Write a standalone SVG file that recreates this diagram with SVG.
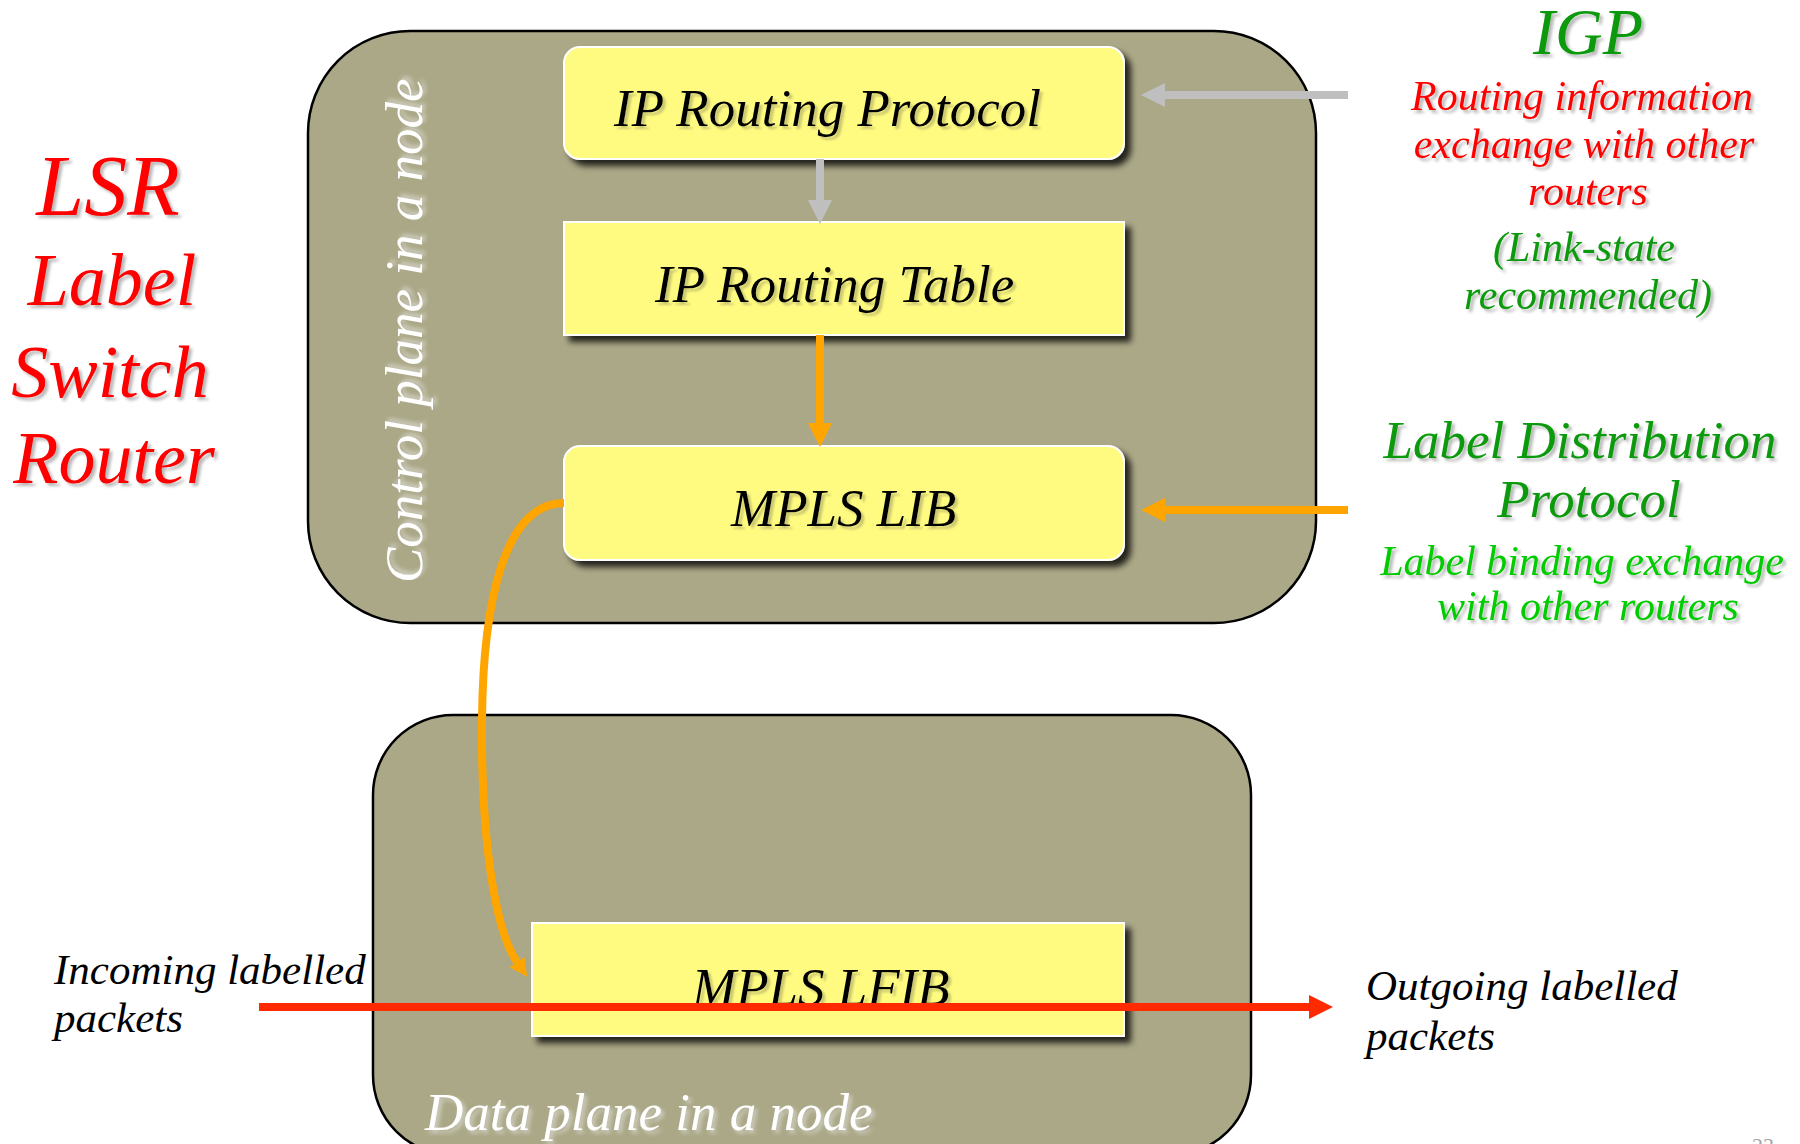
<svg xmlns="http://www.w3.org/2000/svg" width="1800" height="1144" viewBox="0 0 1800 1144">
  <defs>
    <style>
      .serif { font-family: "Liberation Serif", "Times New Roman", serif; font-style: italic; }
      .plane { fill: #aba887; stroke: #000; stroke-width: 2.5; }
      .table { fill: #fffb80; stroke: #ffffff; stroke-width: 2; }
      .boxtext { font-size: 53px; fill: #000; }
      .planetext { font-size: 53px; fill: #ffffff; }
      .lsr { fill: #ff0000; }
      .igp { fill: #0a990a; }
      .ldp { fill: #0a990a; }
      .bind { fill: #00cc00; }
      .red { fill: #ff0000; }
      .pkt { font-size: 43px; fill: #000; }
      .line { fill: none; stroke-width: 8; }
    </style>
    <filter id="boxShadow" x="-5%" y="-10%" width="115%" height="130%">
      <feGaussianBlur in="SourceAlpha" stdDeviation="3"/>
      <feOffset dx="6" dy="6" result="off"/>
      <feComponentTransfer>
        <feFuncA type="linear" slope="0.8"/>
      </feComponentTransfer>
      <feMerge>
        <feMergeNode/>
        <feMergeNode in="SourceGraphic"/>
      </feMerge>
    </filter>
    <filter id="textShadow" x="-5%" y="-20%" width="115%" height="150%">
      <feDropShadow dx="3" dy="3" stdDeviation="1.5" flood-color="#000" flood-opacity="0.28"/>
    </filter>
    <filter id="lightShadow" x="-5%" y="-20%" width="115%" height="150%">
      <feDropShadow dx="3" dy="3" stdDeviation="1" flood-color="#8c8a5a" flood-opacity="0.45"/>
    </filter>
    <filter id="whiteShadow" x="-5%" y="-20%" width="115%" height="150%">
      <feDropShadow dx="3" dy="3" stdDeviation="2" flood-color="#e8e8e8" flood-opacity="0.6"/>
    </filter>
    <marker id="headGray" markerUnits="userSpaceOnUse" viewBox="0 0 24 24" markerWidth="24" markerHeight="24" refX="0" refY="12" orient="auto">
      <path d="M0,0 L24,12 L0,24 z" fill="#bfbfbf"/>
    </marker>
    <marker id="headOrange" markerUnits="userSpaceOnUse" viewBox="0 0 24 24" markerWidth="24" markerHeight="24" refX="0" refY="12" orient="auto">
      <path d="M0,0 L24,12 L0,24 z" fill="#ffa500"/>
    </marker>
    <marker id="headOrangeSmall" markerUnits="userSpaceOnUse" viewBox="0 0 18 18" markerWidth="18" markerHeight="18" refX="0" refY="9" orient="auto">
      <path d="M0,0 L18,9 L0,18 z" fill="#ffa500"/>
    </marker>
    <marker id="headRed" markerUnits="userSpaceOnUse" viewBox="0 0 24 24" markerWidth="24" markerHeight="24" refX="0" refY="12" orient="auto">
      <path d="M0,0 L24,12 L0,24 z" fill="#ff2a00"/>
    </marker>
  </defs>

  <rect width="1800" height="1144" fill="#ffffff"/>

  <!-- Control plane container -->
  <g id="control-plane">
    <rect class="plane" x="308" y="31" width="1008" height="592" rx="102" ry="102"/>
    <text class="serif planetext" transform="translate(422,583) rotate(-90)" filter="url(#whiteShadow)">Control plane in a node</text>
  </g>

  <!-- Data plane container -->
  <g id="data-plane">
    <rect class="plane" x="373" y="715" width="878" height="440" rx="80" ry="80"/>
    <text class="serif planetext" x="425" y="1130" filter="url(#whiteShadow)">Data plane in a node</text>
  </g>

  <g id="ip-routing-protocol">
    <rect class="table" x="564" y="47" width="560" height="112" rx="16" ry="16" filter="url(#boxShadow)"/>
    <text class="serif boxtext" x="614" y="126" filter="url(#lightShadow)">IP Routing Protocol</text>
  </g>

  <g id="ip-routing-table">
    <rect class="table" x="564" y="222" width="560" height="113" filter="url(#boxShadow)"/>
    <text class="serif boxtext" x="655" y="302" filter="url(#lightShadow)">IP Routing Table</text>
  </g>

  <g id="mpls-lib">
    <rect class="table" x="564" y="446" width="560" height="114" rx="16" ry="16" filter="url(#boxShadow)"/>
    <text class="serif boxtext" x="731" y="526" filter="url(#lightShadow)">MPLS LIB</text>
  </g>

  <g id="mpls-lfib">
    <rect class="table" x="532" y="923" width="592" height="113" filter="url(#boxShadow)"/>
    <text class="serif boxtext" x="692" y="1005" filter="url(#lightShadow)">MPLS LFIB</text>
  </g>

  <!-- Left title -->
  <g id="lsr-title" class="serif lsr" filter="url(#textShadow)" text-anchor="middle">
    <text x="108" y="215" font-size="86">LSR</text>
    <text x="112" y="305" font-size="74">Label</text>
    <text x="110" y="397" font-size="74">Switch</text>
    <text x="114" y="483" font-size="74">Router</text>
  </g>

  <!-- IGP annotation -->
  <g id="igp" class="serif" filter="url(#textShadow)" text-anchor="middle">
    <text class="igp" x="1588" y="54" font-size="66">IGP</text>
    <text class="red" x="1582" y="110" font-size="42">Routing information</text>
    <text class="red" x="1584" y="158" font-size="42">exchange with other</text>
    <text class="red" x="1588" y="205" font-size="42">routers</text>
    <text class="igp" x="1584" y="261" font-size="42">(Link-state</text>
    <text class="igp" x="1588" y="309" font-size="42">recommended)</text>
  </g>

  <!-- LDP annotation -->
  <g id="ldp" class="serif" filter="url(#textShadow)" text-anchor="middle">
    <text class="ldp" x="1580" y="458" font-size="53">Label Distribution</text>
    <text class="ldp" x="1589" y="517" font-size="53">Protocol</text>
    <text class="bind" x="1582" y="575" font-size="42">Label binding exchange</text>
    <text class="bind" x="1588" y="620" font-size="42">with other routers</text>
  </g>

  <g id="incoming" class="serif pkt">
    <text x="54" y="984">Incoming labelled</text>
    <text x="54" y="1032">packets</text>
  </g>

  <g id="outgoing" class="serif pkt">
    <text x="1366" y="1000">Outgoing labelled</text>
    <text x="1366" y="1050">packets</text>
  </g>

  <!-- Connectors -->
  <g id="connectors">
    <line class="line" x1="820" y1="159" x2="820" y2="200" stroke="#bfbfbf" marker-end="url(#headGray)"/>
    <line class="line" x1="820" y1="335" x2="820" y2="423" stroke="#ffa500" marker-end="url(#headOrange)"/>
    <line class="line" x1="1348" y1="95" x2="1165" y2="95" stroke="#bfbfbf" marker-end="url(#headGray)"/>
    <line class="line" x1="1348" y1="510" x2="1165" y2="510" stroke="#ffa500" marker-end="url(#headOrange)"/>
    <path class="line" d="M564,503 C505,503 483,600 482,720 C481,840 495,930 517,962" stroke="#ffa500" stroke-width="7" marker-end="url(#headOrangeSmall)"/>
    <line class="line" x1="259" y1="1007" x2="1309" y2="1007" stroke="#ff2a00" marker-end="url(#headRed)"/>
  </g>

  <text x="1752" y="1153" font-family="Liberation Serif, Times New Roman, serif" font-size="22" fill="#a6a6a6">23</text>
</svg>
